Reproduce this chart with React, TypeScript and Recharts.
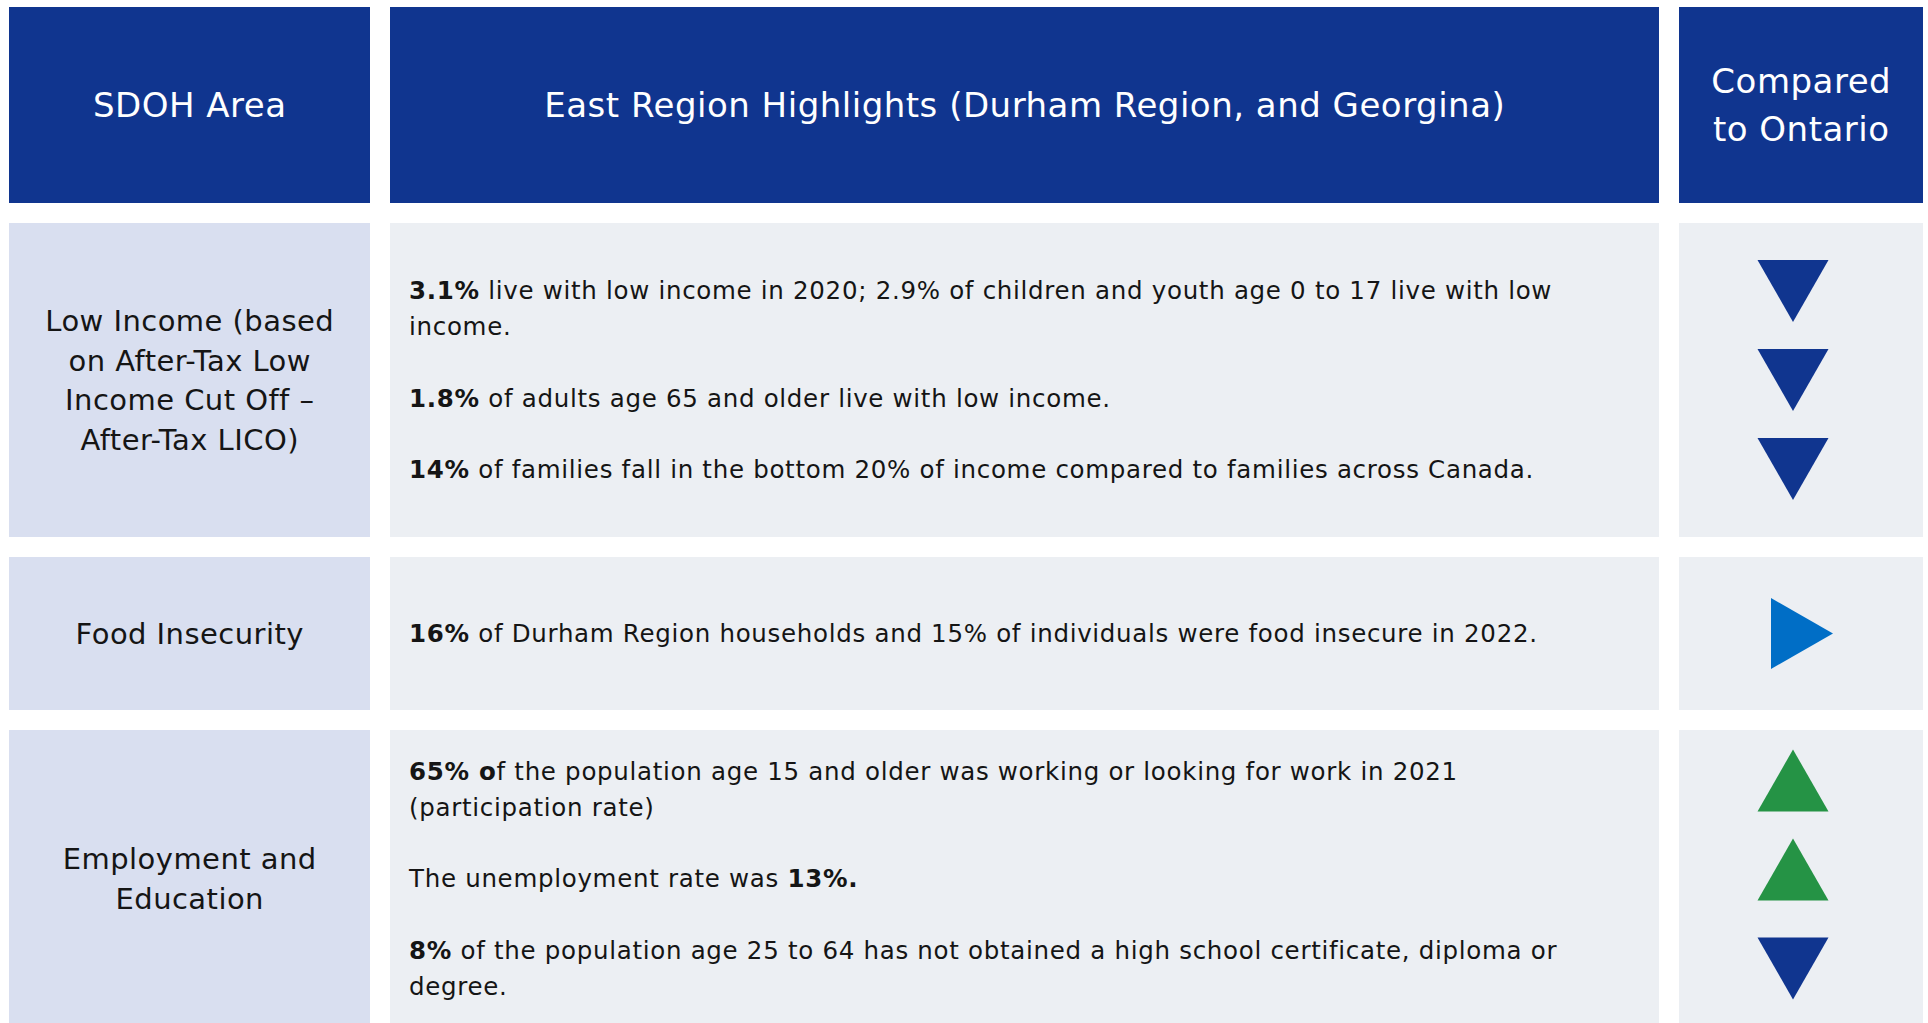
import React from 'react';
import { ScatterChart, Scatter, XAxis, YAxis, ReferenceArea } from 'recharts';

// ---------- data ----------
const headers: string[][] = [
  ['SDOH Area'],
  ['East Region Highlights (Durham Region, and Georgina)'],
  ['Compared', 'to Ontario'],
];

const areaLabels: string[][] = [
  ['Low Income (based', 'on After-Tax Low', 'Income Cut Off –', 'After-Tax LICO)'],
  ['Food Insecurity'],
  ['Employment and', 'Education'],
];

const lowIncomeLines: string[] = [
  '**3.1%** live with low income in 2020; 2.9% of children and youth age 0 to 17 live with low',
  'income.',
  '',
  '**1.8%** of adults age 65 and older live with low income.',
  '',
  '**14%** of families fall in the bottom 20% of income compared to families across Canada.',
];
const foodLines: string[] = [
  '**16%** of Durham Region households and 15% of individuals were food insecure in 2022.',
];
const employmentLines: string[] = [
  '**65% o**f the population age 15 and older was working or looking for work in 2021',
  '(participation rate)',
  '',
  'The unemployment rate was **13%.**',
  '',
  '**8%** of the population age 25 to 64 has not obtained a high school certificate, diploma or',
  'degree.',
];
const highlightLines: string[][] = [lowIncomeLines, foodLines, employmentLines];

// comparison indicators
const indicatorRow: number[] = [0, 0, 0, 1, 2, 2, 2];
const indicatorDir: string[] = ['down', 'down', 'down', 'right', 'up', 'up', 'down'];
const indicatorSlot: number[] = [-89, 0, 89, 0, -98, -9, 90];

// ---------- layout / style ----------
const W = 1928;
const H = 1023;
const cols: number[][] = [[9, 370], [390, 1659], [1679, 1923]];
const rows: number[][] = [[7, 203], [223, 537], [557, 710], [730, 1027]];

const FONT = '"DejaVu Sans", sans-serif';
const HEADER_FILL = '#10358f';
const AREA_FILL = '#d9dff0';
const BODY_FILL = '#eceff3';
const TEXT = '#151515';
const DIR_COLOR: Record<string, string> = { down: '#10358f', right: '#006ec6', up: '#259345' };

const HEADER_SIZE = 34;
const HEADER_LS = 0.5;
const HEADER_LH = 47.6;
const AREA_SIZE = 29;
const AREA_LS = 0.45;
const AREA_LH = 39.5;
const BODY_SIZE = 24.5;
const BODY_LS = 0.7;
const BODY_LH = 35.8;
const CAP = 0.36;

function parseSegments(line: string) {
  const parts = line.split('**');
  return parts.map((t, i) => ({ t, b: i % 2 === 1 })).filter((s) => s.t.length > 0);
}

function centeredLines(vb: any, lines: string[], size: number, lh: number, ls: number, color: string) {
  const cx = vb.x + vb.width / 2 + ls / 2;
  const cy = vb.y + vb.height / 2;
  const n = lines.length;
  return (
    <g>
      {lines.map((l, i) => (
        <text
          key={i}
          x={cx}
          y={cy + (i - (n - 1) / 2) * lh + CAP * size}
          textAnchor="middle"
          fontFamily={FONT}
          fontSize={size}
          fontWeight={400}
          letterSpacing={ls}
          fill={color}
        >
          {l}
        </text>
      ))}
    </g>
  );
}

function leftLines(vb: any, lines: string[]) {
  const x = vb.x + 19;
  const cy = vb.y + vb.height / 2;
  const n = lines.length;
  return (
    <g>
      {lines.map((l, i) => (
        <text
          key={i}
          x={x}
          y={cy + (i - (n - 1) / 2) * BODY_LH + CAP * BODY_SIZE}
          fontFamily={FONT}
          fontSize={BODY_SIZE}
          letterSpacing={BODY_LS}
          fill={TEXT}
          style={{ whiteSpace: 'pre' }}
        >
          {parseSegments(l).map((s, j) => (
            <tspan key={j} fontWeight={s.b ? 700 : 400}>
              {s.t}
            </tspan>
          ))}
        </text>
      ))}
    </g>
  );
}

const Triangle = (props: any) => {
  const { cx, cy, payload } = props;
  if (cx == null || cy == null) return null;
  const dir = payload.dir;
  const color = DIR_COLOR[dir];
  let pts = '';
  if (dir === 'down') {
    pts = `${cx - 35.5},${cy - 31} ${cx + 35.5},${cy - 31} ${cx},${cy + 31}`;
  } else if (dir === 'up') {
    pts = `${cx - 35.5},${cy + 31} ${cx + 35.5},${cy + 31} ${cx},${cy - 31}`;
  } else {
    pts = `${cx - 31},${cy - 35.5} ${cx - 31},${cy + 35.5} ${cx + 31},${cy}`;
  }
  return <polygon points={pts} fill={color} />;
};

export default function App() {
  const col3Center = (cols[2][0] + cols[2][1]) / 2;
  const indicators = indicatorRow.map((r, i) => {
    const row = rows[r + 1];
    const rc = (row[0] + row[1]) / 2;
    return {
      x: indicatorDir[i] === 'right' ? col3Center + 1 : col3Center - 8,
      y: rc + indicatorSlot[i],
      dir: indicatorDir[i],
    };
  });

  return (
    <div style={{ position: 'absolute', left: 0, top: 0, width: W, height: H, background: '#fff' }}>
      <ScatterChart width={W} height={H} margin={{ top: 0, right: 0, bottom: 0, left: 0 }}>
        <XAxis type="number" dataKey="x" domain={[0, W]} hide allowDataOverflow />
        <YAxis type="number" dataKey="y" domain={[0, H]} reversed hide allowDataOverflow />

        {headers.map((h, c) => (
          <ReferenceArea
            key={`h${c}`}
            x1={cols[c][0]}
            x2={cols[c][1]}
            y1={rows[0][0]}
            y2={rows[0][1]}
            fill={HEADER_FILL}
            fillOpacity={1}
            stroke="none"
            ifOverflow="hidden"
            label={{ content: (p: any) => centeredLines(p.viewBox, h, HEADER_SIZE, HEADER_LH, HEADER_LS, '#ffffff') }}
          />
        ))}

        {areaLabels.map((a, r) => (
          <ReferenceArea
            key={`a${r}`}
            x1={cols[0][0]}
            x2={cols[0][1]}
            y1={rows[r + 1][0]}
            y2={rows[r + 1][1]}
            fill={AREA_FILL}
            fillOpacity={1}
            stroke="none"
            ifOverflow="hidden"
            label={{ content: (p: any) => centeredLines(p.viewBox, a, AREA_SIZE, AREA_LH, AREA_LS, TEXT) }}
          />
        ))}

        {highlightLines.map((lines, r) => (
          <ReferenceArea
            key={`b${r}`}
            x1={cols[1][0]}
            x2={cols[1][1]}
            y1={rows[r + 1][0]}
            y2={rows[r + 1][1]}
            fill={BODY_FILL}
            fillOpacity={1}
            stroke="none"
            ifOverflow="hidden"
            label={{ content: (p: any) => leftLines(p.viewBox, lines) }}
          />
        ))}

        {highlightLines.map((_, r) => (
          <ReferenceArea
            key={`c${r}`}
            x1={cols[2][0]}
            x2={cols[2][1]}
            y1={rows[r + 1][0]}
            y2={rows[r + 1][1]}
            fill={BODY_FILL}
            fillOpacity={1}
            stroke="none"
            ifOverflow="hidden"
          />
        ))}

        <Scatter data={indicators} shape={Triangle} isAnimationActive={false} />
      </ScatterChart>
    </div>
  );
}
